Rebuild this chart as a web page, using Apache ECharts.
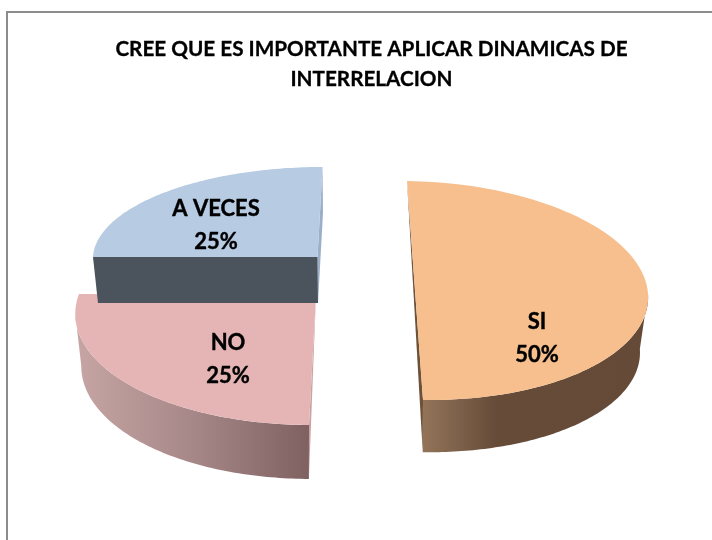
<!DOCTYPE html>
<html>
<head>
<meta charset="utf-8">
<style>html,body{margin:0;padding:0;background:#fff}#c{width:712px;height:540px}</style>
<script src="https://cdn.jsdelivr.net/npm/echarts@6/dist/echarts.min.js"></script>
</head>
<body>
<div id="c"></div>
<script>
var chartTitle = 'CREE QUE ES IMPORTANTE APLICAR DINAMICAS DE\nINTERRELACION';
var categories = ['SI', 'NO', 'A VECES'];
var values = [50, 25, 25];

// Projection of each exploded slice (a tilted, perspective disc) and its styling.
var looks = [
  { apex:[415,290.5], U:[233,3], V:[-8,-109.5], q:0,
    low:{ apex:[415,346], su:0.965, sv:0.97 }, sideRange:[90,180],
    top:'#f6bf8d',
    side:[[0,'#937459'],[0.33,'#654b38'],[1,'#644a37']],
    cutAt:'end', cut:'#6d5239',
    label:[537,338] },
  { apex:[316,295], U:[237,1], V:[5.95,-110.5], q:0.15,
    low:{ apex:[316,347], su:0.975, sv:1.015 }, sideRange:[180,260],
    top:'#e4b5b4',
    side:[[0,'#c6a5a4'],[0.5,'#a78888'],[1,'#7f6162']],
    cutAt:'start', cut:'#c8a3a2',
    label:[228,359] },
  { apex:[317.5,257], U:[224.5,0], V:[5,-90], q:0,
    low:{ apex:[318,303], su:0.98, sv:1 },
    top:'#b7cbe2',
    front:'#4b535d', cut:'#9bafc8',
    label:[216,225] }
];

var total = values.reduce(function (a, b) { return a + b; }, 0);

function project(g, deg, lower) {
  var t = deg * Math.PI / 180, u = Math.sin(t), v = Math.cos(t);
  var w = 1 + g.q * v;
  var A = lower ? g.low.apex : g.apex;
  var su = lower ? g.low.su : 1, sv = lower ? g.low.sv : 1;
  return [
    A[0] + (su * g.U[0] * u + sv * g.V[0] * v) / w,
    A[1] + (su * g.U[1] * u + sv * g.V[1] * v) / w
  ];
}
function arc(g, a, b, lower) {
  var pts = [], n = 90;
  for (var i = 0; i <= n; i++) pts.push(project(g, a + (b - a) * i / n, lower));
  return pts;
}
function poly(points, fill) {
  return { type:'polygon', shape:{ points:points }, style:{ fill:fill }, silent:true };
}

function renderSlice(params, api) {
  var i = params.dataIndex, g = looks[i];
  var start = 0;
  for (var k = 0; k < i; k++) start += values[k];
  start = start / total * 360;
  var end = start + api.value(0) / total * 360;
  var kids = [];
  if (g.side) {
    // the cut face that peeks out beside the rim
    var cutDeg = g.cutAt === 'end' ? end : start;
    var other = g.cutAt === 'end' ? project(g, start, false) : g.apex;
    kids.push(poly([other, project(g, cutDeg, false), project(g, cutDeg, true)], g.cut));
    var upperRim = arc(g, g.sideRange[0], g.sideRange[1], false);
    var lowerRim = arc(g, g.sideRange[0], g.sideRange[1], true);
    kids.push({
      type:'polygon', silent:true,
      shape:{ points:upperRim.concat(lowerRim.slice().reverse()) },
      style:{ fill:new echarts.graphic.LinearGradient(0, 0, 1, 0,
        g.side.map(function (s) { return { offset:s[0], color:s[1] }; })) }
    });
  } else {
    kids.push(poly([project(g, end, false), project(g, end, true), g.low.apex, g.apex], g.cut));
    kids.push(poly([project(g, start, false), g.apex, g.low.apex, project(g, start, true)], g.front));
  }
  kids.push(poly([g.apex].concat(arc(g, start, end, false)), g.top));
  kids.push({
    type:'text', silent:true, z2:10,
    style:{
      x:g.label[0], y:g.label[1],
      text:categories[i] + '\n' + Math.round(api.value(0) / total * 100) + '%',
      fill:'#000', stroke:'#000', lineWidth:0.4, font:'bold 22px Lato', lineHeight:33,
      align:'center', verticalAlign:'middle'
    }
  });
  return { type:'group', children:kids };
}

var chart = echarts.init(document.getElementById('c'), null, { renderer:'canvas' });
chart.setOption({
  animation:false,
  backgroundColor:'#ffffff',
  title:{
    text:chartTitle, left:366.5, top:29, textAlign:'center',
    textStyle:{ fontFamily:'Lato', fontWeight:'bold', fontSize:20.7, lineHeight:30, color:'#000',
      textBorderColor:'#000', textBorderWidth:0.3 }
  },
  graphic:[{
    type:'rect', silent:true, z:-1,
    shape:{ x:7, y:12, width:760, height:600 },
    style:{ fill:'none', stroke:'#8c8c8c', lineWidth:2 }
  }],
  series:[{
    type:'custom', coordinateSystem:'none', renderItem:renderSlice,
    data:categories.map(function (c, i) { return { name:c, value:[values[i]] }; })
  }]
});
</script>
</body>
</html>
